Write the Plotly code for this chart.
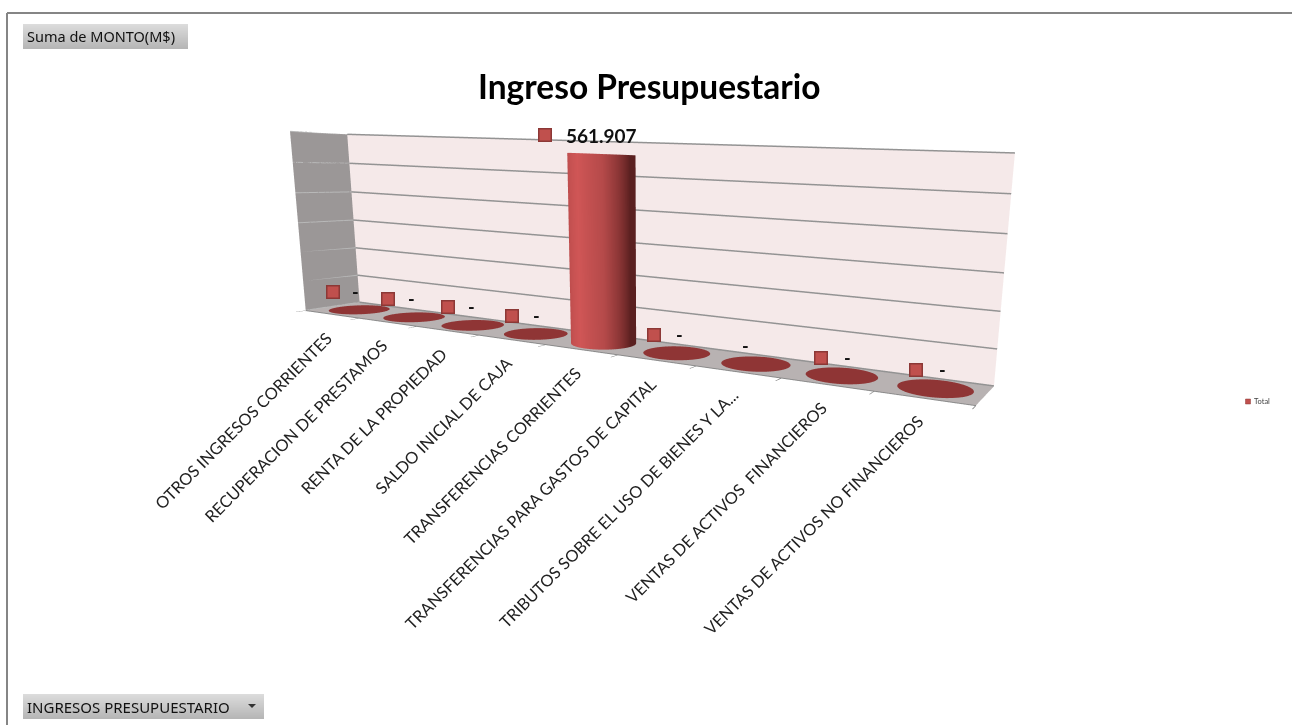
import numpy as np
import plotly.graph_objects as go

categories = ["OTROS INGRESOS CORRIENTES", "RECUPERACION DE PRESTAMOS", "RENTA DE LA PROPIEDAD",
              "SALDO INICIAL DE CAJA", "TRANSFERENCIAS CORRIENTES", "TRANSFERENCIAS PARA GASTOS DE CAPITAL",
              "TRIBUTOS SOBRE EL USO DE BIENES Y LA...", "VENTAS DE ACTIVOS  FINANCIEROS",
              "VENTAS DE ACTIVOS NO FINANCIEROS"]
values = [0, 0, 0, 0, 561907, 0, 0, 0, 0]
value_labels = ["-", "-", "-", "-", "561.907", "-", "-", "-", "-"]
has_marker = [True, True, True, True, True, True, False, True, True]
z_ticks = [0, 100000, 200000, 300000, 400000, 500000, 600000]

W, H = 1292, 725
SCENE_LEFT, SCENE_BOTTOM = 285, 725
EYE = dict(x=2.0189, y=-2.7916, z=0.3271)
CENTER = dict(x=0.6643, y=0.2995, z=-0.4386)
UP = dict(x=-0.122, y=0.1879, z=0.9746)
ASPECT = dict(x=3.0, y=0.2840, z=0.7736)

RX, RY = 0.38, 0.43
fig = go.Figure()
theta = np.linspace(0, 2 * np.pi, 90)
SIDE = [[0, "#a84343"], [.45, "#d05656"], [.7, "#b54a4a"], [.85, "#8c3636"], [1, "#5a2020"]]
DISC = [[0, "#8f3535"], [1, "#8f3535"]]
flat = dict(ambient=1, diffuse=0, specular=0, fresnel=0)
rad = np.linspace(0, 1, 2)
for i, v in enumerate(values):
    zc = np.full((2, theta.size), float(v))
    fig.add_trace(go.Surface(x=i + RX * np.outer(rad, np.cos(theta)), y=RY * np.outer(rad, np.sin(theta)), z=zc,
                             surfacecolor=np.zeros_like(zc), colorscale=DISC, cmin=0, cmax=1, showscale=False,
                             lighting=flat, hoverinfo="skip"))
    if v > 0:
        t = np.clip(((theta - np.pi) % (2 * np.pi)) / np.pi, 0, 1)
        fig.add_trace(go.Surface(x=i + RX * np.tile(np.cos(theta), (2, 1)), y=RY * np.tile(np.sin(theta), (2, 1)),
                                 z=np.outer([0, v], np.ones_like(theta)), surfacecolor=np.tile(t, (2, 1)),
                                 colorscale=SIDE, cmin=0, cmax=1, showscale=False, lighting=flat, hoverinfo="skip"))

bx, by, bz, sx, sy, sz = [], [], [], [], [], []
for zt in z_ticks:
    bx += [-.5, 8.5, None]
    by += [.5, .5, None]
    bz += [zt, zt, None]
    sx += [-.5, -.5, None]
    sy += [-.5, .5, None]
    sz += [zt, zt, None]
fig.add_trace(go.Scatter3d(x=bx, y=by, z=bz, mode="lines", line=dict(color="#939393", width=3), hoverinfo="skip",
                           showlegend=False))
fig.add_trace(go.Scatter3d(x=sx, y=sy, z=sz, mode="lines", line=dict(color="#b8b8b8", width=2), hoverinfo="skip",
                           showlegend=False))

LF = "Lato"
ann3d = []
for i, (v, t) in enumerate(zip(values, value_labels)):
    big = v > 0
    ann3d.append(dict(x=i, y=0, z=v, text=f"<b>{t}</b>", showarrow=False, yshift=19 if big else 18,
                      xshift=0 if big else (-10 if i == 6 else -4 + 1.4 * i),
                      font=dict(family=LF, size=19 if big else 18, color="#111"),
                      xanchor="center", yanchor="middle"))
    ann3d.append(dict(x=i, y=-.5, z=0, text=categories[i], showarrow=False, textangle=-45, xanchor="right",
                      yanchor="top", yshift=-11, xshift=6, font=dict(family=LF, size=16.4, color="#222")))
    if has_marker[i]:
        ann3d.append(dict(x=i, y=0, z=v, text="\u00a0", showarrow=False, xanchor="center", yanchor="middle",
                          xshift=-57 if big else -27 + .9 * i, yshift=19 if big else 18,
                          width=10.5, height=10.5, bgcolor="#c0504d", bordercolor="#8c3836", borderwidth=1.5,
                          borderpad=0, font=dict(size=6)))

ax = dict(title="", showspikes=False, zeroline=False, showticklabels=False, showbackground=True)
scene = dict(
    domain=dict(x=[SCENE_LEFT / W, 1], y=[1 - SCENE_BOTTOM / H, 1]), aspectmode="manual", aspectratio=ASPECT,
    camera=dict(eye=EYE, center=CENTER, up=UP, projection=dict(type="perspective")),
    xaxis=dict(ax, range=[-.5, 8.5], tickvals=list(np.arange(-.5, 9, 1)), ticks="outside", ticklen=10,
               tickcolor="#7a7a7a", tickwidth=2, showgrid=False, showline=True, linecolor="#8a8a8a", linewidth=2,
               backgroundcolor="#9b9797"),
    yaxis=dict(ax, range=[-.5, .5], tickvals=[], ticks="", showgrid=False, showline=False,
               backgroundcolor="#f5e9e9"),
    zaxis=dict(ax, range=[-1000, 600000], tickvals=[], ticks="", showgrid=False, showline=False,
               backgroundcolor="#b8b2b2"),
    annotations=ann3d)

shapes = [dict(type="line", xref="paper", yref="paper", x0=7 / W, x1=1, y0=1 - 13 / H, y1=1 - 13 / H,
               line=dict(color="#858585", width=2)),
          dict(type="line", xref="paper", yref="paper", x0=7 / W, x1=7 / W, y0=0, y1=1 - 13 / H,
               line=dict(color="#858585", width=2))]


def button(x0, y0, x1, y1):
    n = y1 - y0
    for k in range(n):
        g = int(220 - 38 * k / (n - 1))
        shapes.append(dict(type="rect", xref="paper", yref="paper", x0=x0 / W, x1=x1 / W,
                           y0=1 - (y0 + k + 1) / H, y1=1 - (y0 + k) / H,
                           fillcolor=f"rgb({g},{g},{g})", line=dict(width=0)))


button(23, 24, 188, 49)
button(23, 694, 264, 719)
shapes.append(dict(type="path", xref="paper", yref="paper", fillcolor="#333", line=dict(width=0),
                   path=f"M {248/W} {1-704/H} L {256/W} {1-704/H} L {252/W} {1-708/H} Z"))
shapes.append(dict(type="rect", xref="paper", yref="paper", x0=1245.5 / W, x1=1250.5 / W, y0=1 - 404 / H, y1=1 - 399 / H,
                   fillcolor="#c0504d", line=dict(color="#8c3836", width=.5)))


def note(x, y, text, size, family, color="#111", anchor="left", bold=False):
    return dict(xref="paper", yref="paper", x=x / W, y=1 - y / H, text=f"<b>{text}</b>" if bold else text,
                showarrow=False, xanchor=anchor, yanchor="middle", font=dict(size=size, family=family, color=color))


annotations = [note(649, 86, "Ingreso Presupuestario", 33.5, LF, "#000", "center", True),
               note(25, 36.5, "Suma de MONTO(M$)", 14.5, "Noto Sans"),
               note(25, 706.5, "INGRESOS PRESUPUESTARIO", 15, "Noto Sans"),
               note(1252, 401, "Total", 7.5, LF, "#444")]

fig.update_layout(width=W, height=H, margin=dict(l=0, r=0, t=0, b=0), paper_bgcolor="white", showlegend=False,
                  scene=scene, shapes=shapes, annotations=annotations, hovermode=False)
fig.write_html("out.html", config=dict(displayModeBar=False), post_script="document.body.style.margin='0';")
